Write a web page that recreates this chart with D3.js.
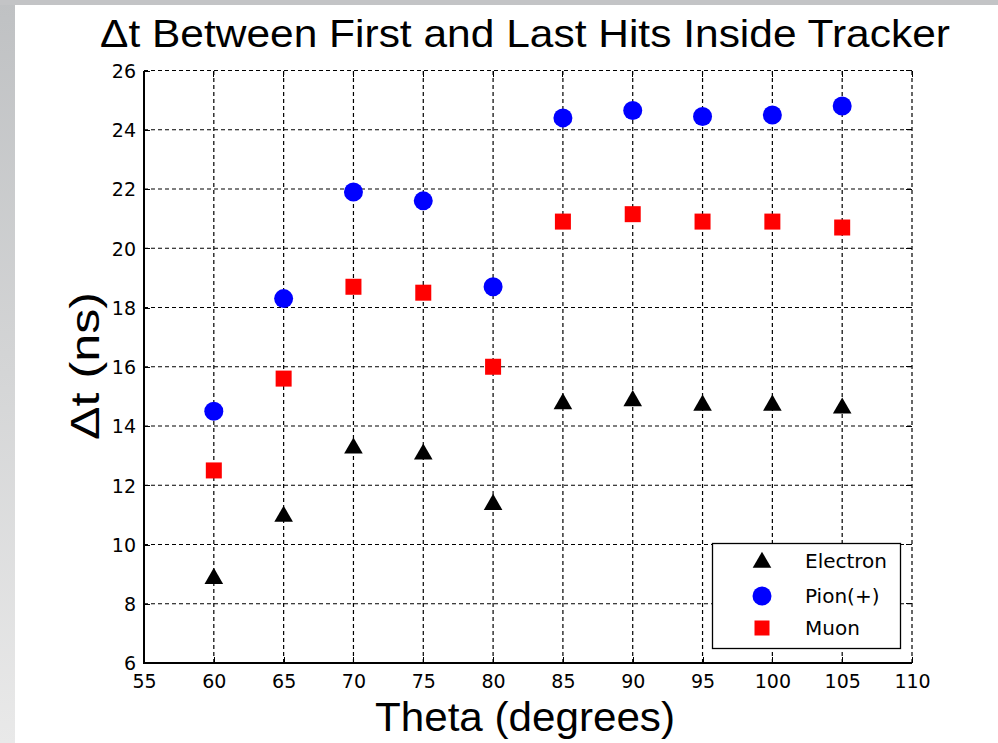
<!DOCTYPE html>
<html><head><meta charset="utf-8">
<script src="https://cdn.jsdelivr.net/npm/d3@7"></script>
<style>
html,body{margin:0;padding:0;background:#fff;}
svg{display:block;}
text{font-family:"Liberation Sans",Arial,sans-serif;fill:#000;}
.tick text,.leg{font-family:"DejaVu Sans",sans-serif;}
</style></head>
<body>
<svg id="chart" width="998" height="743"></svg>
<script>
const theta = [60, 65, 70, 75, 80, 85, 90, 95, 100, 105];
const electron = [8.9, 11.0, 13.3, 13.1, 11.4, 14.8, 14.9, 14.75, 14.75, 14.65];
const pion = [14.5, 18.3, 21.9, 21.6, 18.7, 24.4, 24.65, 24.45, 24.5, 24.8];
const muon = [12.5, 15.6, 18.7, 18.5, 16.0, 20.9, 21.15, 20.9, 20.9, 20.7];
const xTicks = [55, 60, 65, 70, 75, 80, 85, 90, 95, 100, 105, 110];
const yTicks = [6, 8, 10, 12, 14, 16, 18, 20, 22, 24, 26];
const seriesNames = ["Electron", "Pion(+)", "Muon"];

const svg = d3.select("#chart");
const W = 998, H = 743;
const L = 144, R = 912, T = 70.5, B = 663;

// background
const defs = svg.append("defs");
const g1 = defs.append("linearGradient").attr("id","lg").attr("x1",0).attr("y1",0).attr("x2",0).attr("y2",1);
g1.append("stop").attr("offset","0%").attr("stop-color","#bfc1c3");
g1.append("stop").attr("offset","100%").attr("stop-color","#e9e9e9");
svg.append("rect").attr("x",0).attr("y",0).attr("width",W).attr("height",H).attr("fill","url(#lg)");
svg.append("rect").attr("x",0).attr("y",0).attr("width",W).attr("height",5).attr("fill","#c3c4c6");
svg.append("rect").attr("x",15).attr("y",5).attr("width",W-15).attr("height",H-5).attr("fill","#fff");

const x = d3.scaleLinear().domain([55,110]).range([L,R]);
const y = d3.scaleLinear().domain([6,26]).range([B,T]);

// grid
const grid = svg.append("g").attr("stroke","#000").attr("stroke-width",1.2).attr("stroke-dasharray","4,3").attr("fill","none");
xTicks.slice(1).forEach(v => grid.append("line").attr("x1",x(v)).attr("x2",x(v)).attr("y1",B).attr("y2",T));
yTicks.slice(1).forEach(v => grid.append("line").attr("x1",L).attr("x2",R).attr("y1",y(v)).attr("y2",y(v)));

// axes
const xAxis = d3.axisBottom(x).tickValues(xTicks).tickSize(-6).tickPadding(14).tickFormat(d3.format("d"));
const yAxis = d3.axisLeft(y).tickValues(yTicks).tickSize(-6).tickPadding(8).tickFormat(d3.format("d"));
const gx = svg.append("g").attr("transform",`translate(0,${B})`).call(xAxis);
const gy = svg.append("g").attr("transform",`translate(${L},0)`).call(yAxis);
[gx,gy].forEach(g=>{
  g.select(".domain").remove();
  g.selectAll("line").attr("stroke","#000").attr("stroke-width",1).attr("shape-rendering","crispEdges");
  g.selectAll("text").style("font-size","19px").attr("fill","#000");
});
gx.selectAll("text").attr("dy","0.6em");
gy.selectAll("text").attr("dy","0.36em");
// top / right ticks
const tk = svg.append("g").attr("stroke","#000").attr("shape-rendering","crispEdges");
xTicks.forEach(v=>tk.append("line").attr("x1",x(v)).attr("x2",x(v)).attr("y1",T).attr("y2",T+6));
yTicks.forEach(v=>tk.append("line").attr("x1",R).attr("x2",R-6).attr("y1",y(v)).attr("y2",y(v)));
// solid left & bottom
svg.append("path").attr("d",`M${L},${T}V${B}H${R}`).attr("fill","none").attr("stroke","#000").attr("stroke-width",1.3).attr("shape-rendering","crispEdges");

// markers
const tri = d3.symbol().type(d3.symbolTriangle).size(150);
const data = theta.map((t,i)=>({t,e:electron[i],p:pion[i],m:muon[i]}));
svg.append("g").selectAll("path").data(data).join("path")
  .attr("d",tri).attr("transform",d=>`translate(${x(d.t)},${y(d.e)+1.5})`).attr("fill","#000");
svg.append("g").selectAll("circle").data(data).join("circle")
  .attr("cx",d=>x(d.t)).attr("cy",d=>y(d.p)).attr("r",9.5).attr("fill","#0000ff");
svg.append("g").selectAll("rect").data(data).join("rect")
  .attr("x",d=>x(d.t)-8).attr("y",d=>y(d.m)-8).attr("width",16).attr("height",16).attr("fill","#ff0000");

// legend
const lg = svg.append("g");
lg.append("rect").attr("x",712.5).attr("y",543.5).attr("width",188).attr("height",105).attr("fill","#fff").attr("stroke","#000").attr("stroke-width",1.3);
const ly = [561, 596, 628];
lg.append("path").attr("d",tri).attr("transform",`translate(762,${ly[0]+1.5})`).attr("fill","#000");
lg.append("circle").attr("cx",762).attr("cy",ly[1]).attr("r",9.5).attr("fill","#0000ff");
lg.append("rect").attr("x",754.5).attr("y",ly[2]-7.5).attr("width",15).attr("height",15).attr("fill","#ff0000");
seriesNames.forEach((n,i)=>lg.append("text").attr("class","leg").attr("x",805).attr("y",ly[i]).attr("dy","0.36em").style("font-size","20px").text(n));

// titles
svg.append("text").attr("x",525).attr("y",47).attr("text-anchor","middle").style("font-size","39px")
  .attr("textLength",850).attr("lengthAdjust","spacingAndGlyphs").text("Δt Between First and Last Hits Inside Tracker");
svg.append("text").attr("x",525).attr("y",731).attr("text-anchor","middle").style("font-size","40px")
  .attr("textLength",300).attr("lengthAdjust","spacingAndGlyphs").text("Theta (degrees)");
svg.append("text").attr("transform","translate(99,366) rotate(-90)").attr("text-anchor","middle").style("font-size","40px")
  .attr("textLength",148).attr("lengthAdjust","spacingAndGlyphs").text("Δt (ns)");
</script>
</body></html>
